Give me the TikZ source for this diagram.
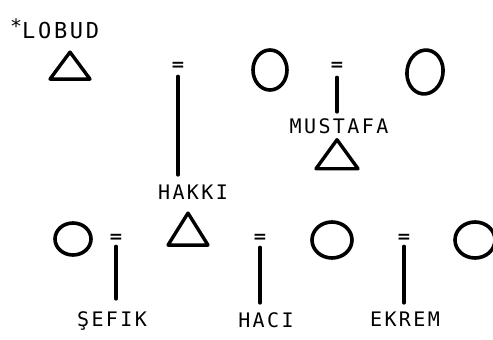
\documentclass[tikz,border=0pt]{standalone}
\usepackage{fontspec}
\setmonofont[LetterSpace=12]{DejaVu Sans Mono}
\newfontfamily\eqfont{DejaVu Sans}
\usetikzlibrary{shapes.geometric,positioning}

\tikzset{
  male/.style={isosceles triangle, isosceles triangle stretches,
    shape border rotate=90, minimum width=40pt, minimum height=27pt,
    inner sep=0pt, draw, line width=3.4pt, line join=round},
  female/.style={ellipse, draw, line width=3.6pt, inner sep=0pt,
    minimum width=34pt, minimum height=40pt},
  wed/.style={font=\fontsize{17}{17}\selectfont\eqfont\bfseries, inner sep=0pt},
  kinname/.style={font=\fontsize{20}{20}\selectfont\ttfamily, inner sep=0pt, anchor=north},
  descent/.style={line width=3.2pt, line cap=round},
}

\begin{document}
\begin{tikzpicture}[x=1pt, y=-1pt]
    \useasboundingbox (0,0) rectangle (493,340);
    \clip (0,0) rectangle (493,340);

    % ego
    \node[font=\fontsize{22}{22}\selectfont\ttfamily, inner sep=0pt, anchor=west] (lobud) at (10,29)
      {\raisebox{0.45ex}{\fontsize{20}{20}\selectfont *}LOBUD};

    % upper generation
    \node[male] (m1) at (70,69) {};
    \node[wed] (eq1) at (178,66) {=};
    \node[female] (f1) at (270,70) {};
    \node[wed] (eq2) at (337,66) {=};
    \node[female, minimum width=36pt, minimum height=44pt, rotate=-8] (f2) at (425,72) {};
    \node[kinname] (mustafa) at (339,118) {MUSTAFA};
    \node[male, minimum height=29pt, minimum width=42pt] (m2) at (337,158) {};
    \node[kinname] (hakki) at (193,185) {HAKKI};

    % lower generation
    \node[female, minimum width=36pt, minimum height=32pt] (f3) at (73,239) {};
    \node[wed] (eq3) at (116,238) {=};
    \node[male, minimum height=32pt] (m3) at (188,234) {};
    \node[wed] (eq4) at (260,238) {=};
    \node[female, minimum width=40pt, minimum height=36pt] (f4) at (332,240) {};
    \node[wed] (eq5) at (404,238) {=};
    \node[female, minimum width=40pt, minimum height=36pt] (f5) at (475,240) {};
    \node[kinname] (sefik) at (112,311) {ŞEFIK};
    \node[kinname] (haci) at (266,312) {HACI};
    \node[kinname] (ekrem) at (405,312) {EKREM};

    % descent lines
    \draw[descent, shorten <=6pt, shorten >=10pt] (eq1.south) -- (eq1.south |- hakki.north);
    \draw[descent, shorten <=7pt, shorten >=6pt] (eq2.south) -- (eq2.south |- mustafa.north);
    \draw[descent, shorten <=4pt, shorten >=12pt] (eq3.south) -- (eq3.south |- sefik.north);
    \draw[descent, shorten <=5pt, shorten >=9pt] (eq4.south) -- (eq4.south |- haci.north);
    \draw[descent, shorten <=4pt, shorten >=9pt] (eq5.south) -- (eq5.south |- ekrem.north);
\end{tikzpicture}
\end{document}
